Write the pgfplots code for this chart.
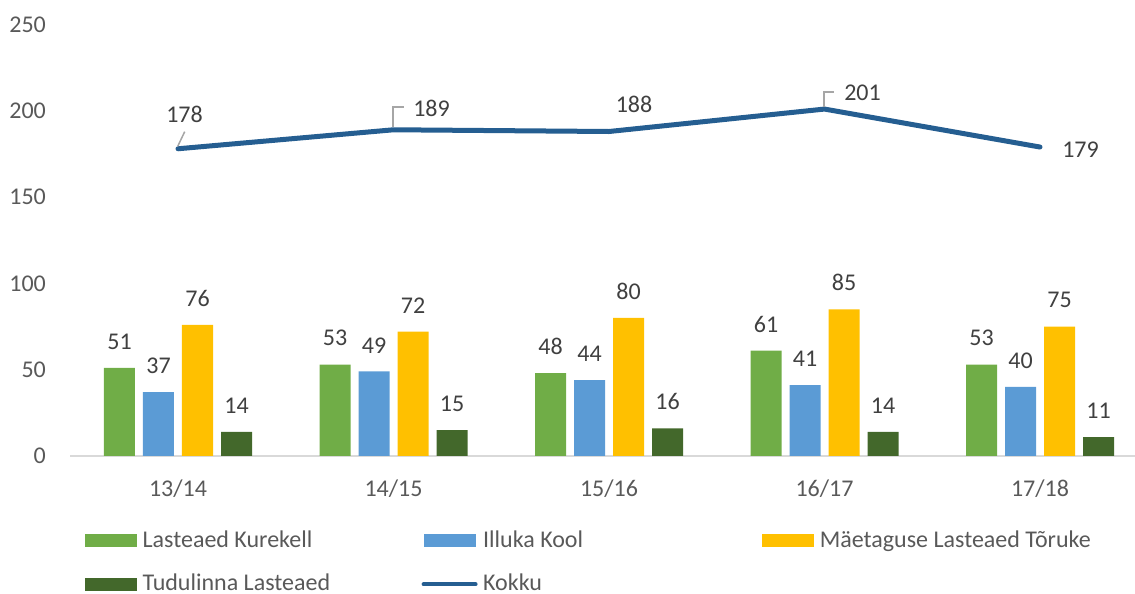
\documentclass[border=0pt]{standalone}
\usepackage{fontspec}
\setmainfont{Carlito}
\usepackage{pgfplots}
\usepackage{pgfplotstable}
\pgfplotsset{compat=1.18}

\definecolor{kurekell}{HTML}{70AD47}
\definecolor{illuka}{HTML}{5B9BD5}
\definecolor{toruke}{HTML}{FFC000}
\definecolor{tudulinna}{HTML}{43682B}
\definecolor{kokku}{HTML}{255E91}
\definecolor{labeltext}{HTML}{404040}
\definecolor{ticktext}{HTML}{595959}
\definecolor{axisgray}{HTML}{D9D9D9}
\definecolor{leadergray}{HTML}{A6A6A6}

\newcommand{\chartfont}{\fontsize{12}{14}\selectfont}

% dx, dy: offset of the Kokku label from its point (pt)
\pgfplotstableread{
x kurekell illuka toruke tudulinna kokku dx dy
0 51 37 76 14 178 3.25 17.15
1 53 49 72 15 189 19 10.9
2 48 44 80 16 188 12.5 13.5
3 61 41 85 14 201 19 8.3
4 53 40 75 11 179 20.25 -1.25
}\data

\pgfplotsset{
  barseries/.style n args={2}{ybar, bar width=15.5pt, bar shift=#2, fill=#1, draw=none,
    point meta=y, nodes near coords, nodes near coords align=vertical,
    every node near coord/.append style={font=\chartfont, text=labeltext, inner sep=0pt,
      xshift=#2, yshift=9pt},
    legend image code/.code={\fill[fill=#1] (0pt,0pt) rectangle (26pt,6.5pt);}},
}

\begin{document}
\begin{tikzpicture}
\useasboundingbox (0,0) rectangle (567.5pt,297pt);
\begin{axis}[
    at={(35.125pt,69pt)}, anchor=south west,
    x=107.75pt, y=0.863pt,
    xmin=-0.5, xmax=4.5, ymin=0, ymax=250,
    clip=false,
    axis lines*=left,
    y axis line style={draw=none},
    x axis line style={draw=axisgray, line width=0.75pt},
    major tick length=0pt,
    xtick={0,...,4},
    xticklabels={13/14,14/15,15/16,16/17,17/18},
    ytick={0,50,...,250},
    /pgf/number format/assume math mode=true,
    tick label style={font=\chartfont, text=ticktext, inner sep=0pt},
    xticklabel style={anchor=base, yshift=-20pt},
    yticklabel style={anchor=east, xshift=-12pt},
    legend columns=3,
    legend style={at={(0.01369,-0.1692)}, anchor=north west, draw=none, fill=none,
      inner sep=0pt, outer sep=0pt, column sep=0pt, row sep=12.9pt,
      font=\chartfont, text=ticktext, cells={anchor=base west},
      nodes={inner sep=0pt, text height=9pt, text depth=0pt}},
]
\addplot[barseries={kurekell}{-29.25pt}] table[x=x,y=kurekell]{\data};
\addlegendentry{\hspace*{2.8pt}\makebox[139.5pt][l]{Lasteaed Kurekell}}
\addplot[barseries={illuka}{-9.75pt}] table[x=x,y=illuka]{\data};
\addlegendentry{\hspace*{2.8pt}\makebox[139.5pt][l]{Illuka Kool}}
\addplot[barseries={toruke}{9.75pt}] table[x=x,y=toruke]{\data};
\addlegendentry{\hspace*{2.8pt}\makebox[139.5pt][l]{Mäetaguse Lasteaed Tõruke}}
\addplot[barseries={tudulinna}{29.25pt}] table[x=x,y=tudulinna]{\data};
\addlegendentry{\hspace*{2.8pt}\makebox[139.5pt][l]{Tudulinna Lasteaed}}

\addplot[kokku, line width=2.5pt, line cap=round, line join=round, mark=none,
    point meta=y, nodes near coords, nodes near coords align=center,
    visualization depends on={\thisrow{dx}\as\dx},
    visualization depends on={\thisrow{dy}\as\dy},
    every node near coord/.append style={font=\chartfont, text=labeltext, inner sep=0pt,
      anchor=center, xshift=\dx, yshift=\dy},
    legend image code/.code={\draw[draw=kokku, line width=2pt, line cap=round] (0pt,3.2pt) -- (26pt,3.2pt);}]
  table[x=x,y=kokku]{\data};
\addlegendentry{\hspace*{2.8pt}Kokku}

% leader lines of the data labels
\draw[leadergray, line width=0.75pt] ([shift={(-0.15pt,1.2pt)}]axis cs:0,178) -- ([shift={(3.35pt,8.55pt)}]axis cs:0,178);
\draw[leadergray, line width=0.75pt] ([shift={(-0.25pt,1.2pt)}]axis cs:1,189) -- ([shift={(-0.25pt,11.4pt)}]axis cs:1,189) -- ([shift={(5.25pt,11.4pt)}]axis cs:1,189);
\draw[leadergray, line width=0.75pt] ([shift={(-0.25pt,1.2pt)}]axis cs:3,201) -- ([shift={(-0.25pt,8.5pt)}]axis cs:3,201) -- ([shift={(4.75pt,8.5pt)}]axis cs:3,201);
\end{axis}
\end{tikzpicture}
\end{document}
